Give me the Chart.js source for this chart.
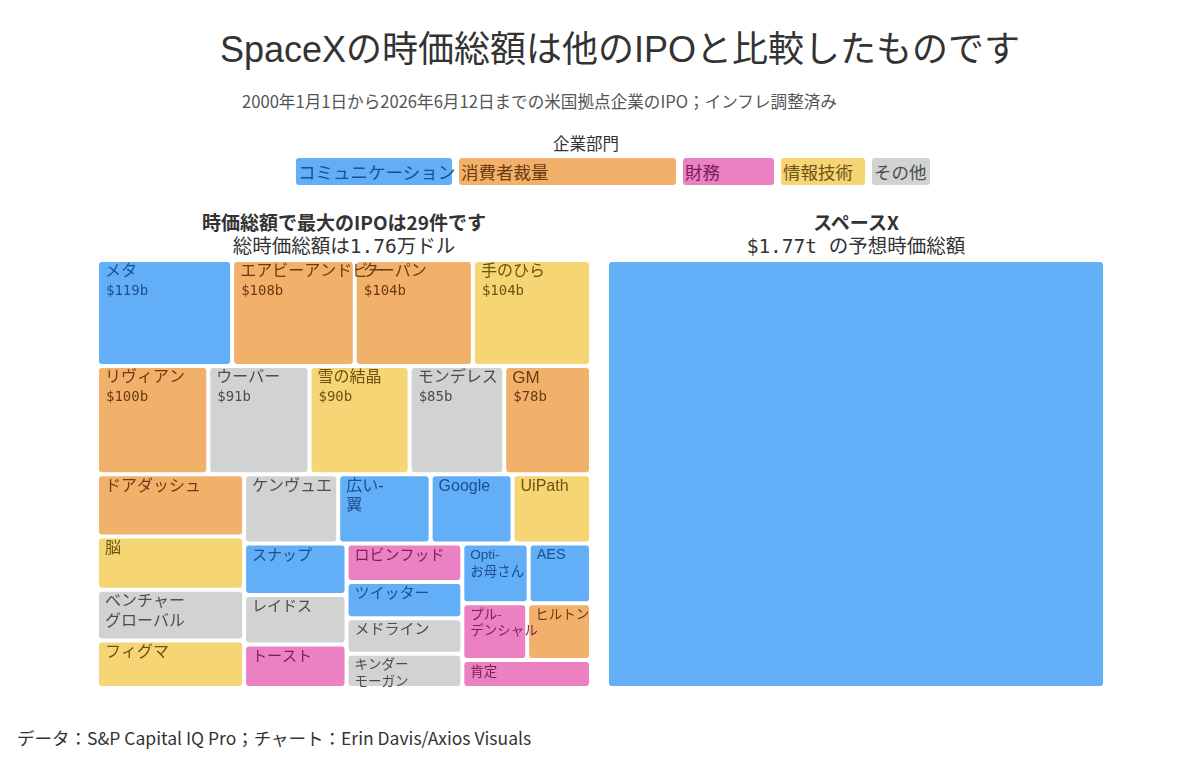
<!DOCTYPE html>
<html lang="ja">
<head>
<meta charset="utf-8">
<script src="https://cdn.jsdelivr.net/npm/chart.js@4.4.1/dist/chart.umd.min.js"></script>
<style>
html,body{margin:0;padding:0;background:#fff;}
body{width:1200px;height:784px;position:relative;overflow:hidden;font-family:"Noto Sans CJK JP","Noto Sans",sans-serif;color:#333;}
.abs{position:absolute;}
#title{left:0;width:1240px;top:24px;text-align:center;font-size:36px;line-height:52px;color:#333;font-family:"Liberation Sans","Noto Sans CJK JP",sans-serif;}
#subtitle{left:242px;top:89px;font-size:16.6px;line-height:24px;color:#555;white-space:nowrap;}
#legendTitle{left:486px;width:200px;top:131px;text-align:center;font-size:16.5px;line-height:24px;color:#333;}
#legend{left:0;top:158px;width:1200px;height:27px;}
.lbox{position:absolute;top:0;height:27px;border-radius:3px;font-size:17.5px;line-height:27px;white-space:nowrap;padding-left:2px;box-sizing:border-box;}
.phead{text-align:center;color:#333;white-space:nowrap;}
.phead .l1{font-size:19px;font-weight:600;line-height:23px;}
.phead .l2{font-size:19.5px;line-height:23px;}
.mono{font-family:"DejaVu Sans Mono",monospace;}
#footer{left:17px;top:726px;font-size:17.5px;line-height:24px;color:#333;white-space:nowrap;}
canvas{position:absolute;}
</style>
</head>
<body>
<div id="title" class="abs">SpaceXの時価総額は他のIPOと比較したものです</div>
<div id="subtitle" class="abs">2000年1月1日から2026年6月12日までの米国拠点企業のIPO；インフレ調整済み</div>
<div id="legendTitle" class="abs">企業部門</div>
<div id="legend" class="abs"></div>
<div id="leftHead" class="abs phead" style="left:99px;width:490px;top:210px;"><div class="l1">時価総額で最大のIPOは29件です</div><div class="l2">総時価総額は<span class="mono">1.76</span>万ドル</div></div>
<div id="rightHead" class="abs phead" style="left:609px;width:494px;top:210px;"><div class="l1">スペースX</div><div class="l2"><span class="mono">$1.77t </span>の予想時価総額</div></div>
<canvas id="leftMap"></canvas>
<canvas id="rightMap"></canvas>
<div id="footer" class="abs">データ：S&amp;P Capital IQ Pro；チャート：Erin Davis/Axios Visuals</div>
<script>
// ---------------- DATA ----------------
const companies = ["メタ","エアビーアンドビー","クーパン","手のひら","リヴィアン","ウーバー","雪の結晶","モンデレス","GM",
  "ドアダッシュ","脳","ベンチャー\nグローバル","フィグマ","ケンヴュエ","広い-\n翼","Google","UiPath",
  "スナップ","レイドス","トースト","ロビンフッド","ツイッター","メドライン","キンダー\nモーガン",
  "Opti-\nお母さん","AES","プル-\nデンシャル","ヒルトン","肯定"];
const marketCapsB = [119,108,104,104,100,91,90,85,78,
  76,65,62,58,54,53,47,45,
  44,42,37,37,35,34,33,
  33,31,30.5,30,30];
const sectorIndex = [0,1,1,3,1,4,3,4,1,
  1,3,4,3,4,0,0,3,
  0,4,2,2,0,4,4,
  0,0,2,1,2];
const sectorNames = ["コミュニケーション","消費者裁量","財務","情報技術","その他"];
const spaceXName = ["スペースX"];
const spaceXCapB = [1770];

// ---------------- STYLE ----------------
const sectorFill = ["#62AFF7","#F2B16B","#EB80C2","#F6D574","#D1D2D2"];
const sectorText = ["#1B4F8F","#6B3A10","#7A1E5A","#6B5413","#4D4D4D"];
const legendBoxWidths = [156,217,91,84,58];
const legendStartX = 296, legendGap = 7;
const layoutAspect = 0.697;   // width/height of the layout space used by the tiling
const GAP = 4;

// legend
(function(){
  const lg = document.getElementById('legend');
  let x = legendStartX;
  sectorNames.forEach((n,i)=>{
    const d = document.createElement('div');
    d.className='lbox';
    d.style.left = x+'px'; d.style.width = legendBoxWidths[i]+'px';
    d.style.background = sectorFill[i]; d.style.color = sectorText[i];
    d.textContent = n;
    lg.appendChild(d);
    x += legendBoxWidths[i] + legendGap;
  });
})();

// squarified tiling (d3-style, golden ratio)
function squarify(values, x0, y0, x1, y1) {
  const ratio = (1 + Math.sqrt(5)) / 2;
  const n = values.length, cells = new Array(n);
  let value = values.reduce((a,b)=>a+b,0), i0 = 0, i1 = 0;
  while (i0 < n) {
    const dx = x1 - x0, dy = y1 - y0;
    let sumValue = values[i1++], minValue = sumValue, maxValue = sumValue;
    const alpha = Math.max(dy/dx, dx/dy) / (value * ratio);
    let beta = sumValue * sumValue * alpha;
    let minRatio = Math.max(maxValue/beta, beta/minValue);
    for (; i1 < n; ++i1) {
      const nv = values[i1];
      sumValue += nv;
      if (nv < minValue) minValue = nv;
      if (nv > maxValue) maxValue = nv;
      beta = sumValue * sumValue * alpha;
      const nr = Math.max(maxValue/beta, beta/minValue);
      if (nr > minRatio) { sumValue -= nv; break; }
      minRatio = nr;
    }
    if (dx < dy) {
      const ny = i1 >= n ? y1 : y0 + dy * sumValue / value;
      let x = x0; const k = (x1 - x0) / sumValue;
      for (let i = i0; i < i1; i++) { const w = values[i]*k; cells[i] = {x0:x, x1:(i===i1-1?x1:x+w), y0:y0, y1:ny}; x += w; }
      y0 = ny;
    } else {
      const nx = i1 >= n ? x1 : x0 + dx * sumValue / value;
      let y = y0; const k = (y1 - y0) / sumValue;
      for (let i = i0; i < i1; i++) { const h = values[i]*k; cells[i] = {x0:x0, x1:nx, y0:y, y1:(i===i1-1?y1:y+h)}; y += h; }
      x0 = nx;
    }
    value -= sumValue; i0 = i1;
  }
  return cells;
}

// custom controller: bars positioned by cell rectangles through the chart's scales
class TreemapCellController extends Chart.BarController {
  updateElements(bars, start, count, mode) {
    const meta = this._cachedMeta, xS = meta.xScale, yS = meta.yScale;
    const cells = this.getDataset().cells;
    for (let i = start; i < start + count; i++) {
      const c = cells[i];
      const l = xS.getPixelForValue(c.x0) + GAP/2, r = xS.getPixelForValue(c.x1) - GAP/2;
      const t = yS.getPixelForValue(c.y0) + GAP/2, b = yS.getPixelForValue(c.y1) - GAP/2;
      const props = {
        horizontal:false, x:(l+r)/2, y:t, base:b, width:r-l, height:b-t,
        borderSkipped:{top:false,bottom:false,left:false,right:false},
        enableBorderRadius:true, inflateAmount:0
      };
      props.options = this.resolveDataElementOptions(i, bars[i].active ? 'active' : mode);
      this.updateElement(bars[i], i, props, mode);
    }
  }
}
TreemapCellController.id = 'treemapcells';
Chart.register(TreemapCellController);

const cellLabels = {
  id:'cellLabels',
  afterDatasetsDraw(chart){
    const ds = chart.data.datasets[0];
    if (!ds.names) return;
    const meta = chart.getDatasetMeta(0), ctx = chart.ctx;
    ctx.save();
    ctx.textAlign='left'; ctx.textBaseline='middle';
    meta.data.forEach((el,i)=>{
      const p = el.getProps(['x','y','base','width'], true);
      const left = p.x - p.width/2, top = Math.min(p.y,p.base), h = Math.abs(p.base-p.y);
      const v = ds.values[i];
      let size = v >= 50 ? 16 : (v >= 34 ? 15 : 13.5);
      if (/^[A-Za-z]+$/.test(ds.names[i])) size += 1;
      ctx.fillStyle = sectorText[ds.sectors[i]];
      ctx.font = size + 'px "Liberation Sans","Noto Sans CJK JP",sans-serif';
      ds.names[i].split('\n').forEach((ln,j)=>ctx.fillText(ln, left+6, top+10+j*size*1.22));
      if (h > 80) {
        ctx.font = '14px "DejaVu Sans Mono",monospace';
        ctx.fillText('$' + Math.round(v) + 'b', left+7, top+29);
      }
    });
    ctx.restore();
  }
};

function makeMap(canvasId, left, top, w, h, values, names, sectors, aspect) {
  const cv = document.getElementById(canvasId);
  cv.width = w; cv.height = h;
  cv.style.left = left+'px'; cv.style.top = top+'px';
  cv.style.width = w+'px'; cv.style.height = h+'px';
  const cells = squarify(values, 0, 0, aspect, 1);
  return new Chart(cv, {
    type:'treemapcells',
    data:{ datasets:[{
      data: cells.map(c=>({x:(c.x0+c.x1)/2, y:[c.y0,c.y1]})),
      cells, values, names, sectors,
      backgroundColor: sectors.map(s=>sectorFill[s]),
      borderRadius:3, borderWidth:0
    }]},
    options:{
      responsive:false, animation:false, events:[], devicePixelRatio:1,
      layout:{padding:0},
      plugins:{legend:{display:false}, tooltip:{enabled:false}},
      scales:{
        x:{type:'linear', min:0, max:aspect, offset:false, display:false, grid:{display:false}},
        y:{type:'linear', min:0, max:1, reverse:true, display:false, grid:{display:false}}
      }
    },
    plugins:[cellLabels]
  });
}

const totalLeft = marketCapsB.reduce((a,b)=>a+b,0);
const leftInnerW = 490, innerH = 424;
const rightInnerW = leftInnerW * spaceXCapB[0] / totalLeft;
makeMap('leftMap', 99-GAP/2, 262-GAP/2, leftInnerW+GAP, innerH+GAP, marketCapsB, companies, sectorIndex, layoutAspect);
makeMap('rightMap', 609-GAP/2, 262-GAP/2, Math.round(rightInnerW+GAP), innerH+GAP, spaceXCapB, null, [0], 1);
</script>
</body>
</html>
